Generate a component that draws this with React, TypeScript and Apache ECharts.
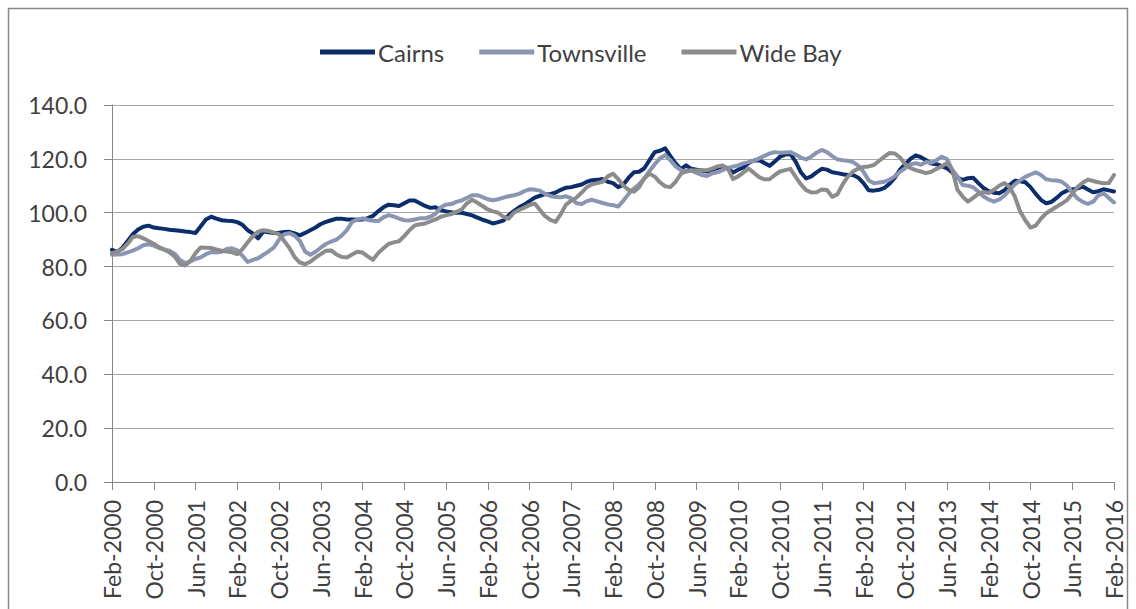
import React, { useEffect, useRef } from "react";
import * as echarts from "echarts";

const MONTH_NAMES = ["Jan", "Feb", "Mar", "Apr", "May", "Jun", "Jul", "Aug", "Sep", "Oct", "Nov", "Dec"];
const START_YEAR = 2000;
const START_MONTH_INDEX = 1; // Feb
const MONTH_COUNT = 193; // Feb-2000 .. Feb-2016

const categories: string[] = [];
for (let i = 0; i < MONTH_COUNT; i++) {
  const t = START_MONTH_INDEX + i;
  categories.push(`${MONTH_NAMES[t % 12]}-${START_YEAR + Math.floor(t / 12)}`);
}

const cairns = [
  86.2, 85.4, 87, 89.5, 92, 93.8, 94.8, 95.2,
  94.5, 94.2, 94, 93.7, 93.5, 93.3, 93, 92.8,
  92.5, 95, 97.5, 98.5, 97.8, 97.2, 97, 96.9,
  96.5, 95.5, 93.5, 92.3, 90.5, 93, 92.7, 92.5,
  92.6, 92.8, 92.9, 92.3, 91.6, 92.5, 93.5, 94.5,
  95.8, 96.6, 97.2, 97.8, 97.8, 97.5, 97.5, 97.4,
  97.5, 98, 98.8, 100.5, 102, 103, 102.8, 102.5,
  103.5, 104.5, 104.5, 103.5, 102.5, 101.8, 102, 101,
  100.5, 100.2, 100, 100, 99.5, 99, 98.2, 97.4,
  96.8, 96, 96.5, 97.1, 99, 100.6, 102, 103,
  104.3, 105.6, 106.3, 106.9, 106.9, 107.5, 108.5, 109.3,
  109.5, 110, 110.5, 111.5, 112.1, 112.2, 112.5, 111.5,
  111, 109.5, 110.5, 113, 115, 115.2, 116.5, 119.5,
  122.5, 123, 123.9, 121, 118.3, 116.2, 117.6, 116.3,
  116, 115.7, 115.3, 115.8, 116.6, 117.2, 116.5, 114.9,
  116, 116.8, 118.5, 119.4, 119.5, 118.5, 117.4, 119,
  120.8, 121.6, 121.8, 119, 115, 112.7, 113.5, 115,
  116.3, 116, 115, 114.7, 114.3, 114, 114, 113,
  111, 108.3, 108.2, 108.5, 109.2, 110.8, 113, 116,
  118, 120, 121.3, 120.6, 119.5, 118.3, 118, 117.3,
  116.5, 115, 113, 112.2, 112.8, 113, 111, 109.2,
  108, 107.4, 107.2, 108.3, 110.3, 111.9, 111.7, 111.3,
  109.5, 107, 104.8, 103.5, 104, 105.5, 107.2, 108.2,
  108.6, 109, 109.7, 108.6, 107.6, 108, 108.7, 108.3,
  107.9,
];

const townsville = [
  84.4, 84.5, 84.6, 85.3, 85.9, 86.8, 87.9, 88.3,
  87.8, 86.9, 86.4, 85.9, 84.8, 82.5, 81.3, 81.9,
  82.8, 83.4, 84.6, 85.4, 85.2, 85.5, 86.5, 86.8,
  86, 84, 81.7, 82.5, 83.1, 84.4, 85.6, 87,
  90, 92, 92.4, 91.5, 89.5, 85.6, 84.4, 85.5,
  87, 88.4, 89.3, 90, 91.5, 93.5, 96.6, 97.5,
  97.9, 97.4, 97, 96.9, 98.3, 99.1, 98.6, 97.8,
  97.2, 97.1, 97.5, 97.9, 97.9, 98.5, 99.6, 102,
  103, 103.2, 104, 104.6, 105.5, 106.5, 106.5, 105.8,
  105, 104.6, 105, 105.6, 106.1, 106.5, 107, 108,
  108.7, 108.5, 108.2, 107, 106.2, 105.8, 105.7, 106.1,
  105.3, 103.5, 103.2, 104.3, 104.8, 104.2, 103.6, 103.1,
  102.8, 102.3, 104.5, 107, 109, 110.5, 112.7, 115.5,
  118, 120.2, 121.4, 119.5, 117.2, 115.8, 115.2, 115.7,
  114.8, 114, 113.6, 114.6, 115, 115.8, 116.6, 117.1,
  117.6, 118.3, 118.8, 119.3, 120.2, 121.1, 122, 122.5,
  122.3, 122.4, 122.5, 121.6, 120.5, 119.8, 120.8, 122.3,
  123.3, 122.5, 121, 119.8, 119.5, 119.3, 118.8, 117.5,
  115.2, 112, 110.9, 111.2, 111.5, 112.3, 113.5, 115.2,
  116.6, 117.9, 118.4, 117.8, 118.8, 118.6, 119.5, 120.8,
  119.9, 116, 113.5, 110.3, 110, 109.5, 107.9, 106,
  104.9, 104.1, 104.9, 106.3, 108.5, 110.5, 112, 113.3,
  114.2, 115, 114, 112.4, 112.1, 112, 111.5, 110,
  107.5, 105.3, 104, 103.3, 104.1, 106.4, 107.2, 105.5,
  103.8,
];

const wideBay = [
  85, 85.5, 86.5, 88.5, 91, 91.3, 90.5, 89.5,
  88.5, 87.2, 86.3, 85.3, 83.8, 81, 80.4, 82,
  85, 87.1, 87, 86.9, 86.4, 85.9, 85.6, 85.3,
  84.6, 86.5, 89, 91.3, 93, 93.5, 93.2, 92.6,
  92, 89.5, 86.9, 83.5, 81.5, 80.9, 81.8, 83.3,
  84.6, 85.9, 86, 84.5, 83.6, 83.4, 84.5, 85.5,
  85.2, 83.8, 82.5, 85, 86.8, 88.4, 89, 89.4,
  91.3, 93.5, 95.3, 95.7, 96, 96.8, 97.5, 98.5,
  99, 99.5, 100.3, 101.2, 103.5, 104.8, 103.7, 102.5,
  101.2, 100.5, 100, 98.5, 97.8, 100, 101, 101.9,
  102.8, 103.4, 101, 98.7, 97.3, 96.6, 99.5, 103,
  104.5, 105.6, 107.5, 109.5, 110.6, 111, 111.5, 113.5,
  114.5, 112.5, 110, 108.5, 107.8, 109.5, 112.8, 114.5,
  113.4, 111.3, 109.8, 109.5, 111.5, 114.4, 115.6, 115.7,
  115.7, 115.8, 115.8, 116.4, 117.2, 117.5, 116.5, 112.5,
  113.5, 115, 116.4, 114.8, 113.2, 112.4, 112.4, 114,
  115.3, 115.8, 116.3, 113.3, 110.5, 108.4, 107.5, 107.6,
  108.6, 108.4, 105.9, 106.8, 110.5, 113.4, 115.3, 116.4,
  117, 117.2, 117.7, 119.3, 120.8, 122.2, 122, 120.5,
  118, 116.6, 115.8, 115.3, 114.7, 115.2, 116.3, 117.2,
  118.5, 116, 108.5, 106, 104.1, 105.5, 107, 107.7,
  107.3, 108.5, 110, 111, 109.5, 106, 100.5, 97.2,
  94.5, 95.2, 97.8, 99.8, 101, 102.2, 103.4, 104.7,
  107, 109.5, 111.1, 112.3, 111.8, 111.3, 110.9, 111,
  114,
];

const Y_MIN = 0;
const Y_MAX = 140;
const Y_INTERVAL = 20;

const SERIES = [
  { name: "Cairns", data: cairns, color: "#0B2D6B" },
  { name: "Townsville", data: townsville, color: "#8A95B2" },
  { name: "Wide Bay", data: wideBay, color: "#8C8C8C" },
];

const FONT = "Lato, 'Liberation Sans', sans-serif";
const TEXT_COLOR = "#404040";
const AXIS_COLOR = "#868686";
const GRID_COLOR = "#A6A6A6";

export default function App() {
  const ref = useRef<HTMLDivElement>(null);

  useEffect(() => {
    document.body.style.margin = "0";
    if (!ref.current) return;
    const chart = echarts.init(ref.current, undefined, { renderer: "svg" });
    chart.setOption({
      animation: false,
      backgroundColor: "#ffffff",
      textStyle: { fontFamily: FONT },
      graphic: [
        {
          type: "rect",
          shape: { x: 8.5, y: 8.5, width: 1119, height: 700 },
          style: { fill: "none", stroke: AXIS_COLOR, lineWidth: 1.5 },
          silent: true,
        },
      ],
      legend: {
        left: 315,
        top: 35,
        icon: "rect",
        itemWidth: 55,
        itemHeight: 5,
        itemGap: 35,
        textStyle: { fontFamily: FONT, fontSize: 24, color: TEXT_COLOR, padding: [0, 0, 0, -2] },
        data: SERIES.map((s) => s.name),
      },
      grid: { left: 112, right: 22, top: 105, bottom: 127, containLabel: false },
      xAxis: {
        type: "category",
        data: categories,
        boundaryGap: false,
        axisLine: { show: true, lineStyle: { color: AXIS_COLOR, width: 1 } },
        axisTick: { show: true, interval: 7, length: 8, lineStyle: { color: AXIS_COLOR } },
        axisLabel: {
          interval: 7,
          rotate: 90,
          margin: 18,
          fontFamily: FONT,
          fontSize: 23,
          color: TEXT_COLOR,
        },
        splitLine: { show: false },
      },
      yAxis: {
        type: "value",
        min: Y_MIN,
        max: Y_MAX,
        interval: Y_INTERVAL,
        axisLine: { show: true, lineStyle: { color: AXIS_COLOR, width: 1 } },
        axisTick: { show: true, length: 8, lineStyle: { color: AXIS_COLOR } },
        axisLabel: {
          margin: 25,
          fontFamily: FONT,
          fontSize: 23,
          color: TEXT_COLOR,
          formatter: (v: number) => v.toFixed(1),
        },
        splitLine: { show: true, lineStyle: { color: GRID_COLOR, width: 1 } },
      },
      series: SERIES.map((s) => ({
        name: s.name,
        type: "line",
        data: s.data,
        symbol: "none",
        smooth: false,
        color: s.color,
        lineStyle: { color: s.color, width: 4, join: "round", cap: "round" },
      })),
    });
    return () => chart.dispose();
  }, []);

  return <div ref={ref} style={{ width: 1136, height: 609, overflow: "hidden" }} />;
}
